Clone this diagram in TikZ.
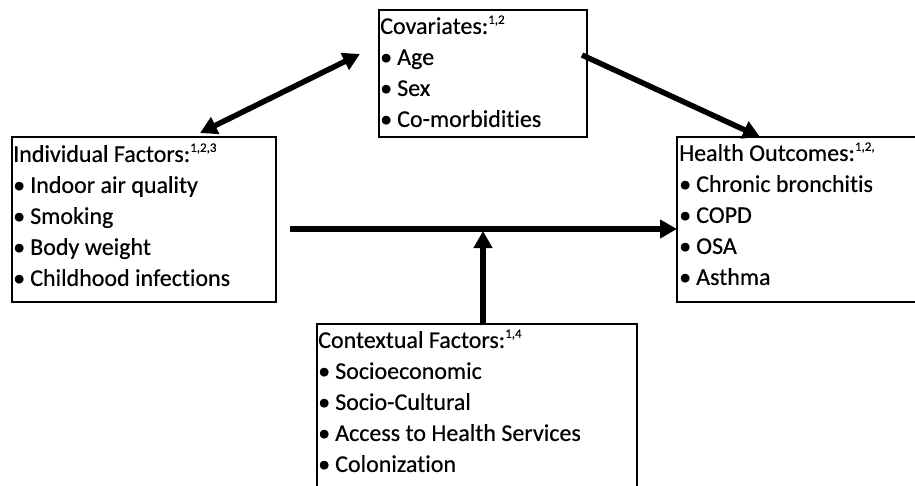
\documentclass[tikz,border=0pt]{standalone}
\usepackage{fontspec}
\setmainfont{Carlito}[Ligatures={NoCommon},FakeBold=0.4]
\usetikzlibrary{arrows.meta}
\newcommand{\bul}[1]{\makebox[17pt][l]{\textbullet}#1\strut}
\newcommand{\supr}[1]{\raisebox{10pt}{\fontsize{13}{13}\selectfont #1}}
\begin{document}
\begin{tikzpicture}[x=1pt,y=-1pt,
  box/.style={draw=black,line width=1.8pt,rectangle,anchor=north west,inner sep=0pt,outer sep=0pt},
  txt/.style={anchor=north west,inner sep=0pt,align=left,font=\fontsize{24}{31}\selectfont},
  arr/.style={line width=5.5pt,-{Triangle[length=17pt,width=18pt]}},
  darr/.style={line width=5.5pt,{Triangle[length=17pt,width=18pt]}-{Triangle[length=17pt,width=18pt]}}]
\useasboundingbox (0,0) rectangle (915,485);
\clip (0,0) rectangle (915,485);
% boxes
\node[box,minimum width=208pt,minimum height=127pt] (cov) at (379,10) {};
\node[box,minimum width=264pt,minimum height=165pt] (ind) at (12,137) {};
\node[box,minimum width=260pt,minimum height=165pt] (hlth) at (677,137) {};
\node[box,minimum width=320pt,minimum height=180pt] (ctx) at (317,324) {};
% texts
\node[txt] (covt) at (380,12) {Covariates:\supr{1,2}\strut\\ \bul{Age}\\ \bul{Sex}\\ \bul{Co-morbidities}};
\node[txt] (indt) at (13,140) {Individual Factors:\supr{1,2,3}\strut\\ \bul{Indoor air quality}\\ \bul{Smoking}\\ \bul{Body weight}\\ \bul{Childhood infections}};
\node[txt] (hltht) at (679,139) {Health Outcomes:\supr{1,2,}\strut\\ \bul{Chronic bronchitis}\\ \bul{COPD}\\ \bul{OSA}\\ \bul{Asthma}};
\node[txt] (ctxt) at (318,326) {Contextual Factors:\supr{1,4}\strut\\ \bul{Socioeconomic}\\ \bul{Socio-Cultural}\\ \bul{Access to Health Services}\\ \bul{Colonization}};
% connectors
\coordinate (hs) at (290,229);
\coordinate (vm) at (483,231);
\coordinate (d1) at (200,133);
\coordinate (d2) at (360,54);
\coordinate (c1) at (582,55);
\coordinate (c2) at (760,137);
\draw[arr] (hs) -- (hs -| hlth.west);
\draw[arr] (ctx.north -| vm) -- (vm);
\draw[darr] (d1) -- (d2);
\draw[arr] (c1) -- (c2);
\end{tikzpicture}
\end{document}
